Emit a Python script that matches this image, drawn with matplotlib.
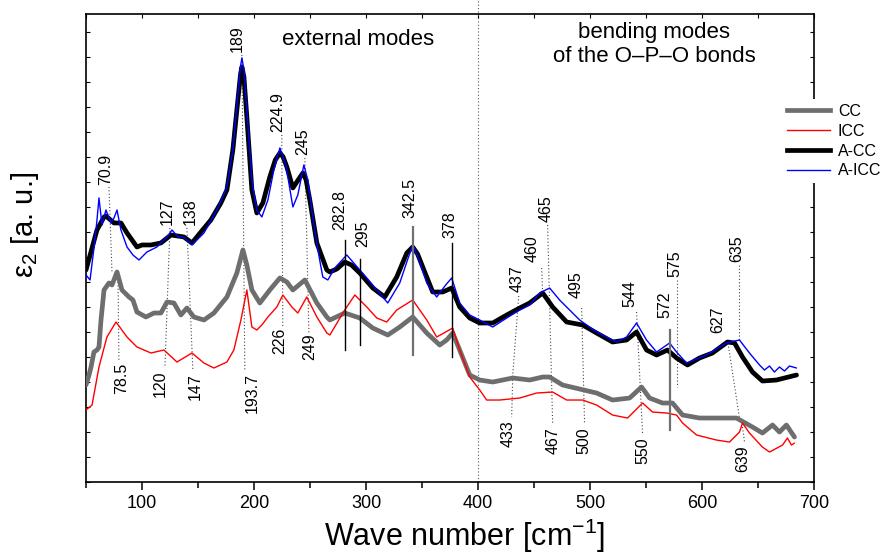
import matplotlib.pyplot as plt
from matplotlib import font_manager
from matplotlib.lines import Line2D
from matplotlib.ticker import MultipleLocator

names = {f.name for f in font_manager.fontManager.ttflist}
narrow = 'Liberation Sans Narrow' if 'Liberation Sans Narrow' in names else 'Liberation Sans'
plt.rcParams['font.family'] = ['Liberation Sans', 'DejaVu Sans']
plt.rcParams['mathtext.fontset'] = 'custom'
plt.rcParams['mathtext.rm'] = 'Liberation Sans'
plt.rcParams['mathtext.it'] = 'Liberation Sans:italic'

# wave number [cm-1] and eps2 [a.u.]
acc_x = [50, 59.8, 66.1, 67.8, 75.0, 81.2, 86.6, 95.5, 100, 108, 116.9, 125.8, 137.4, 144.6,
         152.6, 161.5, 170.4, 175.8, 181.1, 185.6, 188.0, 189.2, 191.0, 193.6, 198.1, 202.5,
         207.9, 214.1, 219.0, 223.1, 226.0, 229.3, 234.7, 240.0, 243.6, 246.5, 249.8, 256.1,
         265.0, 267.7, 274.0, 281.0, 287.0, 294.4, 306.0, 316.7, 327.4, 336.4, 341.7, 346.0,
         350.6, 359.5, 368.5, 376.5, 383.6, 392.6, 401.5, 413.1, 425.6, 437.2, 446.1, 457.7,
         466.6, 479.1, 493.4, 505.8, 520.1, 532.6, 541.5, 550.4, 559.4, 569.2, 577.2, 587.0,
         597.7, 609.3, 622.7, 629.0, 636.1, 645.0, 653.9, 666.4, 684.3]
acc_y = [212, 252, 265, 266, 259, 259, 249, 235, 237, 237, 239, 247, 245, 239,
         250, 262, 279, 292, 332, 382, 408, 415, 405, 365, 292, 269,
         279, 305, 322, 329, 325, 315, 294, 303, 309, 302, 282, 239,
         212, 210, 213, 220, 217, 209, 194, 185, 205, 229, 235, 228,
         215, 190, 190, 194, 175, 164, 159, 159, 167, 174, 179, 189,
         175, 160, 157, 149, 140, 142, 150, 132, 127, 132, 124, 117,
         124, 129, 140, 139, 125, 110, 101, 102, 107]

aicc_x = [50, 53.6, 58.0, 59.8, 61.6, 64.3, 67.8, 72.3, 75.0, 77.7, 81.2, 86.6, 91.9, 97.3,
          104.4, 113.3, 119.6, 123.1, 126.7, 132.1, 137.4, 144.6, 155.3, 166.9, 175.8, 181.1,
          185.6, 188.0, 189.2, 191.0, 193.6, 198.1, 202.5, 207.0, 212.4, 217.7, 223.1, 228.4,
          234.7, 239.1, 244.5, 248.0, 252.5, 257.0, 261.4, 265.9, 272.1, 282.8, 300.7, 319.4,
          330.1, 336.4, 341.7, 348.0, 354.2, 363.1, 371.1, 376.5, 383.6, 392.6, 401.5, 413.1,
          425.6, 437.2, 446.1, 455.0, 463.9, 472.8, 490.7, 505.8, 523.7, 532.6, 541.5, 550.4,
          559.4, 571.0, 577.2, 586.1, 603.9, 621.8, 633.4, 642.3, 651.3, 655.7, 660.2, 664.6,
          669.1, 673.6, 678.0, 684.3]
aicc_y = [207, 202, 242, 262, 284, 257, 272, 259, 264, 272, 252, 235, 227, 222,
          230, 235, 242, 246, 252, 245, 245, 237, 249, 272, 295, 332,
          387, 416, 424, 412, 372, 302, 272, 265, 282, 312, 334, 317,
          275, 287, 317, 302, 265, 232, 205, 202, 214, 227, 204, 179,
          199, 220, 237, 220, 199, 185, 197, 204, 179, 167, 162, 155,
          164, 172, 177, 189, 194, 182, 162, 150, 140, 145, 159, 142,
          130, 139, 130, 119, 127, 139, 142, 129, 117, 112, 116, 110,
          115, 111, 116, 114]

cc_x = [50, 52.7, 54.5, 57.1, 59.8, 61.6, 63.4, 66.1, 70.5, 73.2, 77.7, 82.1, 88.4, 91.9,
        95.5, 103.5, 110.7, 116.9, 122.3, 128.5, 134.7, 140.1, 146.3, 155.3, 164.2, 175.8,
        184.7, 190.1, 193.6, 198.1, 205.2, 214.1, 223.1, 229.3, 234.7, 245.4, 256.1, 265.0,
        267.7, 281.0, 294.4, 306.0, 319.4, 330.1, 341.7, 354.2, 365.8, 372.0, 377.4, 383.6,
        392.6, 401.5, 413.1, 430.9, 446.1, 457.7, 463.9, 475.5, 490.7, 505.8, 520.1, 535.3,
        546.0, 553.1, 564.7, 573.6, 582.6, 597.7, 612.9, 630.7, 645.0, 653.9, 662.9, 669.1,
        675.3, 682.5]
cc_y = [97, 107, 115, 130, 132, 135, 162, 192, 199, 197, 210, 192, 185, 182,
        170, 165, 169, 169, 180, 179, 167, 174, 165, 162, 169, 185,
        209, 232, 217, 192, 179, 192, 204, 200, 192, 202, 179, 165,
        162, 169, 164, 154, 147, 155, 165, 149, 137, 142, 149, 132,
        107, 102, 100, 104, 102, 105, 105, 97, 93, 89, 82, 84,
        95, 84, 79, 79, 67, 64, 64, 64, 55, 49, 57, 50,
        57, 45]

icc_x = [50, 55.4, 61.6, 68.7, 76.8, 86.6, 95.5, 108, 119.6, 131.2, 144.6, 155.3, 164.2, 175.8,
         182.0, 188.3, 193.6, 198.1, 202.5, 207.0, 212.4, 220.4, 225.7, 233.8, 239.1, 247.1,
         256.1, 265.0, 267.7, 281.0, 290.0, 300.7, 309.6, 318.5, 327.4, 341.7, 354.2, 363.1,
         377.4, 383.6, 392.6, 401.5, 407.7, 419.3, 437.2, 452.3, 466.6, 479.1, 493.4, 505.8,
         520.1, 533.5, 546.9, 555.8, 568.3, 577.2, 582.6, 595.1, 612.9, 624.5, 633.4, 636.1,
         642.3, 653.9, 660.2, 671.8, 676.2, 679.8, 682.5]
icc_y = [72, 77, 115, 145, 160, 145, 135, 129, 132, 120, 129, 119, 114, 120,
         132, 162, 192, 155, 152, 157, 165, 175, 187, 175, 169, 185,
         165, 149, 147, 172, 187, 175, 164, 160, 172, 182, 162, 145,
         154, 132, 105, 92, 82, 82, 84, 89, 90, 82, 82, 77,
         67, 64, 79, 70, 69, 67, 59, 47, 42, 40, 50, 59,
         49, 35, 30, 37, 44, 37, 39]

# peak labels above the curves: text, text x, text bottom
top_labels = ['70.9', '127', '138', '189', '224.9', '245', '282.8', '295', '342.5', '378',
              '437', '460', '465', '495', '544', '572', '575', '627', '635']
top_lx = [67.8, 122.3, 142.8, 184.7, 221.3, 243.6, 276.6, 297.1, 339.0, 374.7,
          434.5, 447.9, 461.2, 488.0, 535.3, 566.5, 575.4, 613.8, 630.7]
top_ly = [297, 257, 257, 430, 350, 327, 252, 235, 264, 244,
          190, 220, 260, 184, 175, 164, 205, 149, 220]

# peak labels below the curves: text, text x, text top
bot_labels = ['78.5', '120', '147', '193.7', '226', '249', '433', '467', '500', '550', '639']
bot_lx = [82.1, 116.0, 147.2, 198.1, 223.1, 249.8, 426.5, 466.6, 494.2, 546.9, 636.1]
bot_ly = [119, 112, 109, 109, 154, 149, 62, 55, 55, 45, 37]

# dotted leader lines: x0, y0, x1, y1
dot_lines = [(70.5, 295, 73.2, 210), (78.5, 210, 79.4, 122), (124.9, 254, 120.5, 115),
             (140.1, 254, 145.4, 112), (189.2, 427, 191.8, 112), (224.8, 347, 225.7, 155),
             (245.4, 324, 249.0, 149), (436.3, 186, 430.9, 106), (430.9, 102, 430.0, 65),
             (456.8, 214, 457.7, 189), (462.1, 257, 466.6, 58), (492.5, 174, 495.1, 58),
             (541.5, 170, 546.9, 48), (577.2, 202, 577.2, 95), (622.7, 142, 633.4, 64),
             (633.4, 217, 633.4, 142), (636.1, 55, 637.9, 40)]
# solid marker lines: x, y0, y1, color, width
solid_lines = [(281.0, 242, 132, 'black', 1.0), (294.4, 223, 137, 'black', 1.0),
               (341.7, 255, 127, '#707070', 1.6), (376.5, 239, 125, 'black', 1.0),
               (571.0, 152, 52, '#707070', 1.6)]

fig = plt.figure(figsize=(8.82, 5.56), dpi=100)
ax = fig.add_axes([0.0975, 0.133, 0.8255, 0.842])

style = dict(solid_joinstyle='round', solid_capstyle='round')
ax.plot(cc_x, cc_y, color='#6e6e6e', lw=3.4, zorder=3, **style)
ax.plot(icc_x, icc_y, color='red', lw=1.0, zorder=3, **style)
ax.plot(acc_x, acc_y, color='black', lw=3.4, zorder=4, **style)
ax.plot(aicc_x, aicc_y, color='blue', lw=1.0, zorder=4, **style)

for x0, y0, x1, y1 in dot_lines:
    ax.plot([x0, x1], [y0, y1], ls=(0, (1, 2)), color='#444444', lw=0.8, zorder=2)
for x, y0, y1, c, w in solid_lines:
    ax.plot([x, x], [y0, y1], color=c, lw=w, zorder=5)

ax.plot([400, 400], [0, 482], ls=(0, (1, 2)), color='#555555', lw=0.8, clip_on=False, zorder=2)

for t, x, y in zip(top_labels, top_lx, top_ly):
    ax.text(x, y, t, rotation=90, ha='center', va='bottom', fontsize=11.5)
for t, x, y in zip(bot_labels, bot_lx, bot_ly):
    ax.text(x, y, t, rotation=90, ha='center', va='top', fontsize=11.5)

ax.text(293, 437, 'external modes', ha='center', va='baseline', fontsize=16)
ax.text(557, 444, 'bending modes', ha='center', va='baseline', fontsize=16)
ax.text(557, 420, 'of the O\u2013P\u2013O bonds', ha='center', va='baseline', fontsize=16)

ax.set_xlim(50, 700)
ax.set_ylim(0, 468)
ax.xaxis.set_major_locator(MultipleLocator(100))
ax.xaxis.set_minor_locator(MultipleLocator(50))
ax.yaxis.set_major_locator(MultipleLocator(25))
ax.tick_params(axis='x', which='both', direction='out', bottom=True, top=False,
               labelsize=13, width=1.1)
ax.tick_params(axis='x', which='major', length=6)
ax.tick_params(axis='x', which='minor', length=4)
ax.tick_params(axis='y', which='both', direction='in', left=True, right=True,
               labelleft=False, length=3, width=0.8)
for lab in ax.get_xticklabels():
    lab.set_fontfamily(narrow)
for s in ax.spines.values():
    s.set_linewidth(1.2)

# top ticks pointing inward
top = ax.secondary_xaxis('top')
top.xaxis.set_major_locator(MultipleLocator(50))
top.tick_params(direction='in', length=3, width=0.8, labeltop=False)
top.spines['top'].set_visible(False)

ax.set_xlabel('Wave number [cm$^{-1}$]', fontsize=22, fontfamily=narrow)
ax.xaxis.set_label_coords(0.52, -0.075)
ax.set_ylabel('\u03b5$_{2}$ [a. u.]', fontsize=21)
ax.yaxis.set_label_coords(-0.062, 0.55)

handles = [Line2D([], [], color='#6e6e6e', lw=3.4), Line2D([], [], color='red', lw=1.0),
           Line2D([], [], color='black', lw=3.4), Line2D([], [], color='blue', lw=1.0)]
leg = ax.legend(handles, ['CC', 'ICC', 'A-CC', 'A-ICC'], loc='upper left',
                bbox_to_anchor=(0.945, 0.835), fontsize=11.5, frameon=True,
                edgecolor='none', facecolor='white', framealpha=1, fancybox=False,
                handlelength=2.7, labelspacing=0.3, borderpad=0.3, handletextpad=0.5)
leg.set_zorder(10)

fig.savefig('out.png', dpi=100)
